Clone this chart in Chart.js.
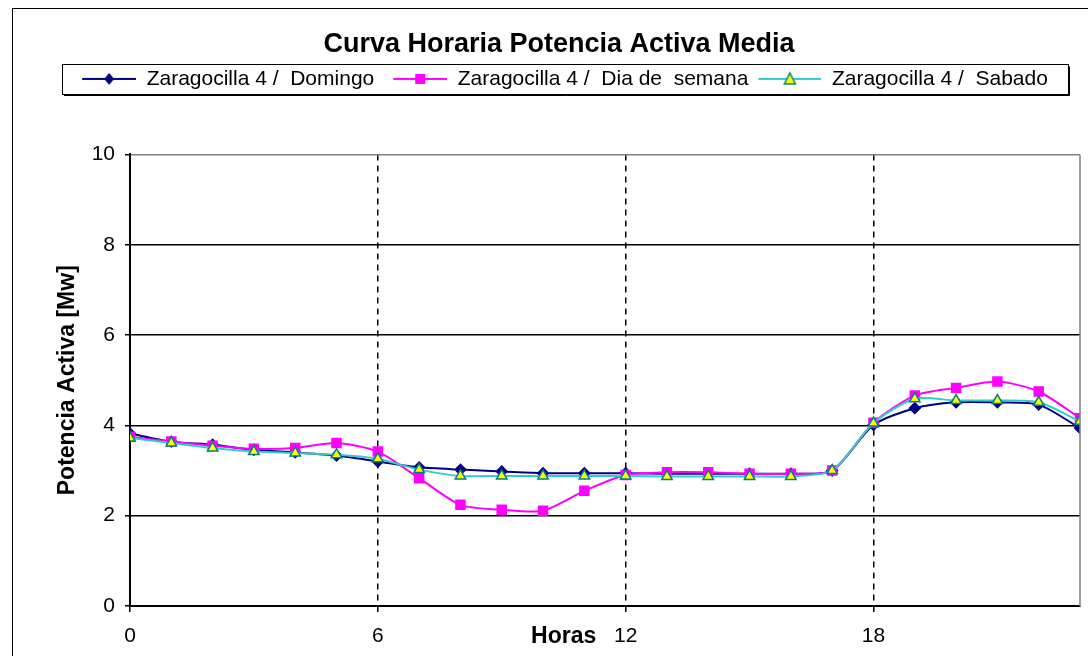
<!DOCTYPE html>
<html>
<head>
<meta charset="utf-8">
<script src="https://cdn.jsdelivr.net/npm/chart.js@4.4.1/dist/chart.umd.min.js"></script>
<style>
  html, body { margin: 0; padding: 0; background: #fff; }
  #wrap { width: 1088px; height: 656px; position: relative; }
</style>
</head>
<body>
<div id="wrap"><canvas id="potenciaChart"></canvas></div>
<script>
// hours of the day
const horas = [0, 1, 2, 3, 4, 5, 6, 7, 8, 9, 10, 11, 12, 13, 14, 15, 16, 17, 18, 19, 20, 21, 22, 23];

// Potencia activa [Mw]
const domingo = [3.82, 3.64, 3.57, 3.46, 3.40, 3.33, 3.20, 3.07, 3.02, 2.98, 2.94, 2.94,
                 2.94, 2.93, 2.93, 2.93, 2.93, 3.00, 4.01, 4.38, 4.51, 4.51, 4.46, 3.94];
const diaSemana = [3.75, 3.64, 3.55, 3.48, 3.50, 3.61, 3.42, 2.83, 2.24, 2.13, 2.11, 2.55,
                   2.90, 2.96, 2.96, 2.93, 2.93, 3.00, 4.06, 4.66, 4.83, 4.97, 4.75, 4.16];
const sabado = [3.72, 3.61, 3.50, 3.42, 3.39, 3.35, 3.26, 3.02, 2.88, 2.88, 2.88, 2.88,
                2.88, 2.87, 2.87, 2.87, 2.87, 3.00, 4.05, 4.59, 4.55, 4.55, 4.51, 4.09];

const seriesNames = ['Zaragocilla 4 /  Domingo', 'Zaragocilla 4 /  Dia de  semana', 'Zaragocilla 4 /  Sabado'];

const FONT = "'Liberation Sans', Arial, sans-serif";
const ICON_W = 66;

// line + marker pictures for the legend (line runs to the right edge)
function legendIcon(lineColor, lineLen, draw) {
  const c = document.createElement('canvas');
  c.width = ICON_W; c.height = 18;
  const g = c.getContext('2d');
  g.strokeStyle = lineColor;
  g.lineWidth = 2;
  g.beginPath(); g.moveTo(ICON_W - lineLen, 9); g.lineTo(ICON_W, 9); g.stroke();
  draw(g, ICON_W - lineLen / 2);
  return c;
}
const icons = [
  legendIcon('#000080', 54, (g, cx) => {
    g.fillStyle = '#000080';
    g.beginPath(); g.moveTo(cx, 3); g.lineTo(cx + 5, 9); g.lineTo(cx, 15); g.lineTo(cx - 5, 9); g.closePath(); g.fill();
  }),
  legendIcon('#FF00FF', 54, (g, cx) => {
    g.fillStyle = '#FF00FF';
    g.fillRect(cx - 5, 4, 10, 10);
  }),
  legendIcon('#33CCCC', 63, (g, cx) => {
    g.fillStyle = '#FFFF00'; g.strokeStyle = '#008080'; g.lineWidth = 1.5;
    g.beginPath(); g.moveTo(cx, 3); g.lineTo(cx + 5.5, 14); g.lineTo(cx - 5.5, 14); g.closePath(); g.fill(); g.stroke();
  })
];

const points = arr => arr.map((v, i) => ({ x: horas[i], y: v }));

const frame = {
  id: 'frame',
  beforeDraw(chart) {
    const ctx = chart.ctx;
    ctx.save();
    ctx.fillStyle = '#fff';
    ctx.fillRect(0, 0, chart.width, chart.height);
    ctx.strokeStyle = '#000';
    ctx.lineWidth = 1;
    ctx.strokeRect(12.5, 8.5, 1200, 800);
    ctx.restore();
  },
  afterDraw(chart) {
    const ctx = chart.ctx;
    const a = chart.chartArea;
    ctx.save();
    // plot area right edge
    ctx.strokeStyle = '#808080';
    ctx.lineWidth = 1.5;
    ctx.beginPath(); ctx.moveTo(a.right, a.top); ctx.lineTo(a.right, a.bottom); ctx.stroke();
    // legend box with a small shadow
    const lg = chart.legend;
    const top = Math.round(lg.top + 2.5) + 0.5;
    ctx.strokeStyle = '#000';
    ctx.lineWidth = 1;
    ctx.strokeRect(62.5, top, 1006, 30);
    ctx.beginPath(); ctx.moveTo(64, top + 31); ctx.lineTo(1069.5, top + 31); ctx.lineTo(1069.5, top + 2); ctx.stroke();
    // x axis title sits on the tick label row
    const xs = chart.scales.x;
    ctx.fillStyle = '#000';
    ctx.font = 'bold 23px ' + FONT;
    ctx.textAlign = 'center';
    ctx.textBaseline = 'middle';
    ctx.fillText('Horas', xs.getPixelForValue(10.5), 637);
    ctx.restore();
  }
};

new Chart(document.getElementById('potenciaChart'), {
  type: 'line',
  data: {
    datasets: [
      {
        label: seriesNames[0],
        data: points(domingo),
        order: 2,
        borderColor: '#000080',
        backgroundColor: '#000080',
        borderWidth: 2,
        pointStyle: 'rectRot',
        pointRadius: 5,
        pointBorderColor: '#000080',
        pointBackgroundColor: '#000080',
        tension: 0.25
      },
      {
        label: seriesNames[1],
        data: points(diaSemana),
        order: 1,
        borderColor: '#FF00FF',
        backgroundColor: '#FF00FF',
        borderWidth: 2,
        pointStyle: 'rect',
        pointRadius: 6,
        pointBorderColor: '#FF00FF',
        pointBackgroundColor: '#FF00FF',
        tension: 0.25
      },
      {
        label: seriesNames[2],
        data: points(sabado),
        order: 0,
        borderColor: '#33CCCC',
        backgroundColor: '#33CCCC',
        borderWidth: 2,
        pointStyle: 'triangle',
        pointRadius: 6,
        pointBorderWidth: 1.5,
        pointBorderColor: '#008080',
        pointBackgroundColor: '#FFFF00',
        tension: 0.25
      }
    ]
  },
  options: {
    responsive: true,
    maintainAspectRatio: false,
    animation: false,
    layout: { padding: { left: 34, right: 4, top: 0, bottom: 0 } },
    scales: {
      x: {
        type: 'linear',
        min: 0,
        max: 23,
        afterFit: s => { s.height = 50; s.paddingRight = 0; },
        ticks: {
          stepSize: 6,
          includeBounds: false,
          color: '#000',
          font: { family: FONT, size: 21 },
          padding: 12,
          maxRotation: 0
        },
        grid: {
          color: c => (c.tick && c.tick.value === 0) ? 'rgba(0,0,0,0)' : '#000',
          tickColor: '#000',
          lineWidth: 1.5,
          tickLength: 6
        },
        border: { color: '#000', width: 2, dash: [6, 5] }
      },
      y: {
        min: 0,
        max: 10,
        afterFit: s => { s.width = 96; },
        ticks: {
          stepSize: 2,
          color: '#000',
          font: { family: FONT, size: 21 },
          padding: 10
        },
        grid: {
          color: c => (c.tick && c.tick.value === 10) ? '#808080' : '#000',
          tickColor: '#000',
          lineWidth: 1.5,
          tickLength: 5
        },
        border: { color: '#000', width: 2 },
        title: {
          display: true,
          text: 'Potencia Activa [Mw]',
          color: '#000',
          font: { family: FONT, size: 23, weight: 'bold' },
          padding: { top: 20, bottom: 0 }
        }
      }
    },
    plugins: {
      title: {
        display: true,
        text: 'Curva Horaria Potencia Activa Media',
        color: '#000',
        font: { family: FONT, size: 27, weight: 'bold' },
        padding: { top: 28, bottom: 1 }
      },
      subtitle: {
        display: true,
        text: ' ',
        weight: 100,
        font: { size: 1, lineHeight: 1 },
        padding: { top: 54, bottom: 0 }
      },
      legend: {
        position: 'top',
        labels: {
          usePointStyle: true,
          pointStyleWidth: ICON_W,
          padding: 7,
          color: '#000',
          font: { family: FONT, size: 21 },
          sort: (a, b) => a.datasetIndex - b.datasetIndex,
          generateLabels: chart => {
            const items = Chart.defaults.plugins.legend.labels.generateLabels(chart);
            items.forEach(it => { it.pointStyle = icons[it.datasetIndex]; });
            return items;
          }
        }
      },
      tooltip: { enabled: false }
    }
  },
  plugins: [frame]
});
</script>
</body>
</html>
